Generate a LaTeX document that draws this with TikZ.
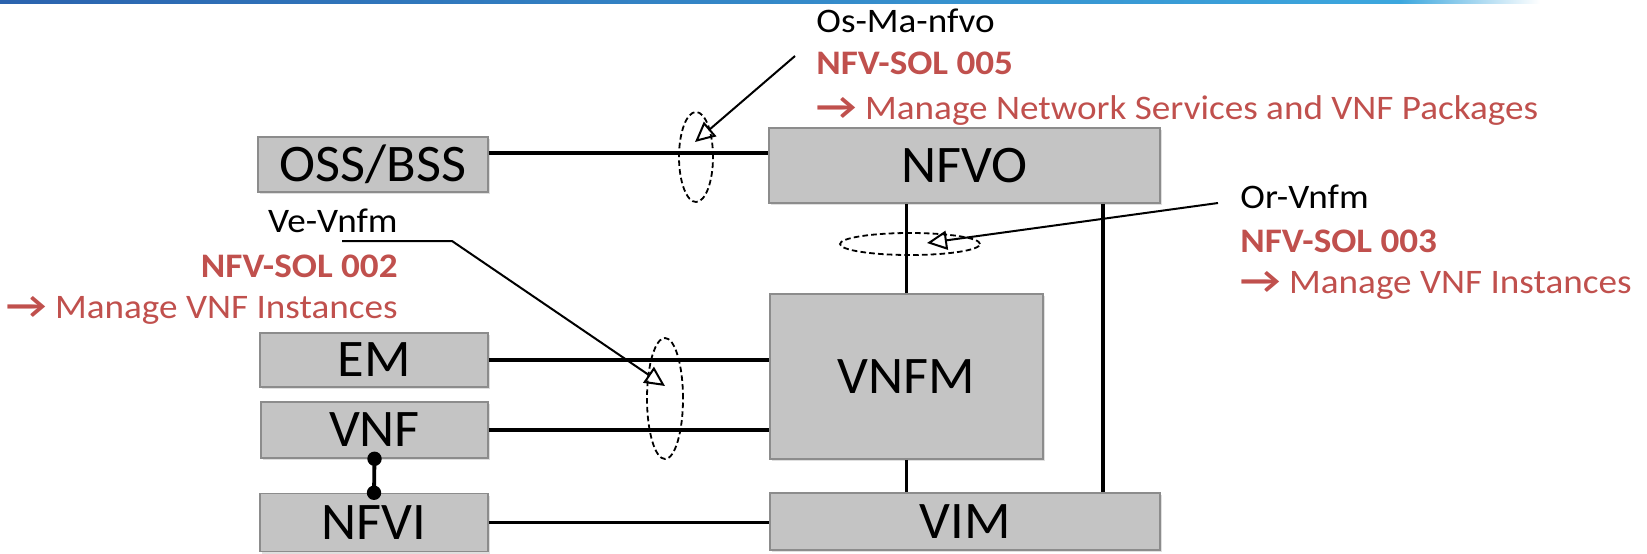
\documentclass[tikz,border=0pt]{standalone}
\usepackage{fontspec}
\setmainfont{Carlito}
\newfontfamily\annfont{Carlito}[FakeStretch=1.08]
\newfontfamily\boxfont{Carlito}[FakeStretch=1.03]
\usetikzlibrary{arrows.meta,shadows,shapes.geometric}
\definecolor{boxfill}{HTML}{C4C4C4}
\definecolor{boxdraw}{HTML}{8C8C8C}
\definecolor{solred}{HTML}{C0504D}
\definecolor{topblue}{HTML}{2B63AE}
\definecolor{topcyan}{HTML}{3CA7DE}
\newcommand{\rarr}{\scalebox{1.2}[1.1]{\bfseries →}}
\tikzset{
  block/.style={draw=boxdraw, line width=0.75pt, fill=boxfill, inner sep=0pt,
    font=\boxfont\fontsize{26.4}{30}\selectfont,
    drop shadow={shadow xshift=1pt, shadow yshift=-1pt, opacity=0.25}},
  conn/.style={line width=1.9pt, black},
  ring/.style={ellipse, draw, dashed, line width=0.9pt, inner sep=0pt,
    dash pattern=on 2.8pt off 1.6pt},
  pointer/.style={line width=1pt, -{Triangle[open, length=10pt, width=9.5pt, line width=1pt]}},
  lbl/.style={font=\annfont\fontsize{17.2}{20}\selectfont, inner sep=0pt},
  sol/.style={lbl, font=\annfont\fontsize{17.2}{20}\selectfont\bfseries, text=solred},
  act/.style={lbl, text=solred}
}
\begin{document}
\begin{tikzpicture}[x=0.5pt, y=-0.5pt]
\useasboundingbox (0,0) rectangle (1647,553);
% top banner line
\shade[left color=topblue, right color=topcyan] (0,0) rectangle (1400,3);
\shade[left color=topcyan, right color=white] (1400,0) rectangle (1540,3);

% boxes
\node[block, minimum width=115pt, minimum height=27.5pt] (oss) at (373,164.5) {OSS/BSS};
\node[block, minimum width=195.5pt, minimum height=37.5pt] (nfvo) at (964.5,165.5) {NFVO};
\node[block, minimum width=136.5pt, minimum height=82.5pt] (vnfm) at (906.5,376.5) {VNFM};
\node[block, minimum width=195pt, minimum height=28.5pt] (vim) at (965,521.5) {VIM};
\node[block, minimum width=114pt, minimum height=27pt] (em) at (374,360) {EM};
\node[block, minimum width=113.5pt, minimum height=28pt] (vnf) at (374.5,430) {VNF};
\node[block, minimum width=114pt, minimum height=29pt] (nfvi) at (374,522.5) {NFVI};

% connectors
\draw[conn] ([yshift=5.75pt]oss.east) -- ([yshift=5.75pt]oss.east -| nfvo.west);
\draw[conn] (em.east) -- (em.east -| vnfm.west);
\draw[conn] (vnf.east) -- (vnf.east -| vnfm.west);
\draw[conn] (nfvi.east) -- (nfvi.east -| vim.west);
\draw[conn] (vnfm.north) -- (vnfm.north |- nfvo.south);
\draw[conn] (vnfm.south) -- (vnfm.south |- vim.north);
\draw[conn] ([xshift=-29pt]nfvo.south east) -- ([xshift=-29pt]vim.north east);
\draw[conn] (vnf.south) -- (nfvi.north);
\fill (vnf.south) circle (3.6pt);
\fill (nfvi.north) circle (3.6pt);

% dashed rings
\node[ring, minimum width=17pt, minimum height=45pt] (r1) at (696,157) {};
\node[ring, minimum width=70pt, minimum height=11pt] (r2) at (910,244) {};
\node[ring, minimum width=18pt, minimum height=60.5pt] (r3) at (665,398.5) {};

% annotation texts
\node[lbl, anchor=base west] (osma) at (816,32) {Os-Ma-nfvo};
\node[sol, anchor=base west] (sol5) at (816,74) {NFV-SOL 005};
\node[act, anchor=base west] (act5) at (816,119) {\rarr{} Manage Network Services and VNF Packages};

\node[lbl, anchor=base west] (orvn) at (1240,208) {Or-Vnfm};
\node[sol, anchor=base west] (sol3) at (1240,252) {NFV-SOL 003};
\node[act, anchor=base west] (act3) at (1240,293) {\rarr{} Manage VNF Instances};

\node[lbl, anchor=base east] (vevn) at (398,232) {Ve-Vnfm};
\node[sol, anchor=base east] (sol2) at (398,277) {NFV-SOL 002};
\node[act, anchor=base east] (act2) at (398,318) {\rarr{} Manage VNF Instances};

% pointer coordinates
\coordinate (p1s) at (795,56);
\coordinate (p1e) at (695,142);
\coordinate (p2s) at (1218,203);
\coordinate (p2e) at (927,243);
\coordinate (p3s) at (342,241);
\coordinate (p3m) at (452,241);
\coordinate (p3e) at (665,386);
\draw[pointer] (p1s) -- (p1e);
\draw[pointer] (p2s) -- (p2e);
\draw[pointer] (p3s) -- (p3m) -- (p3e);
\end{tikzpicture}
\end{document}
